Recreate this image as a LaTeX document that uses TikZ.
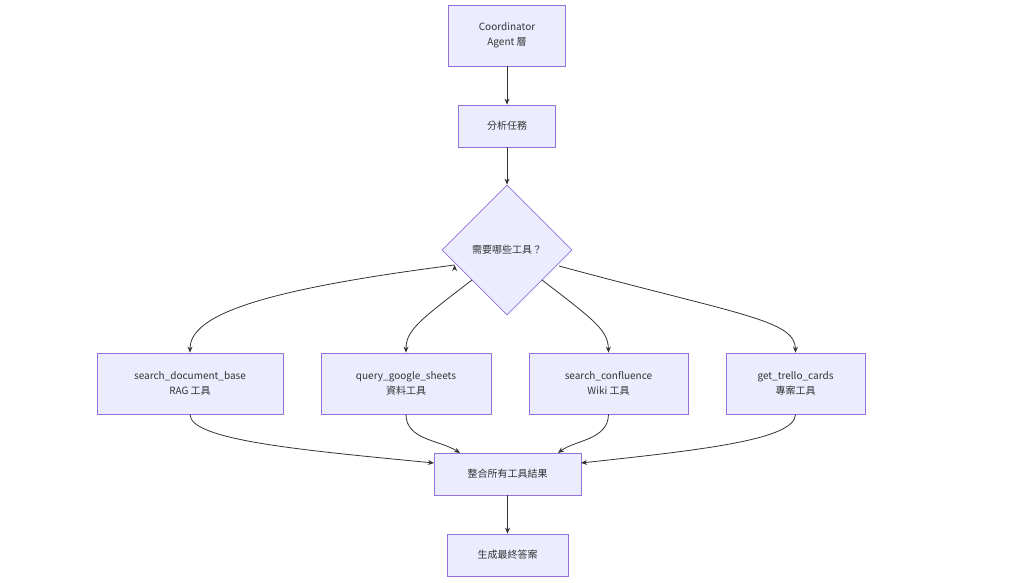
\documentclass[tikz,border=0pt]{standalone}
\usepackage{fontspec}
\setmainfont{Noto Sans CJK TC}
\usetikzlibrary{shapes.geometric,arrows.meta}
\definecolor{nf}{HTML}{ECECFF}
\definecolor{nb}{HTML}{9370DB}
\definecolor{ln}{HTML}{333333}
\begin{document}
\begin{tikzpicture}[x=1pt,y=-1pt,
  box/.style={draw=nb,fill=nf,line width=0.8pt,text=ln,font=\fontsize{10}{15}\selectfont,align=center,inner sep=0pt},
  ar/.style={draw=ln,line width=0.8pt,-{Stealth[length=6pt,width=5pt]}}]
\useasboundingbox (0,0) rectangle (1024,582);
\node[box,minimum width=117pt,minimum height=61pt] (a) at (507,35.5) {Coordinator\\Agent 層};
\node[box,minimum width=97pt,minimum height=42pt] (b) at (507,126) {分析任務};
\node[box,diamond,aspect=1,minimum width=130pt,minimum height=130pt] (d) at (507,250) {需要哪些工具？};
\node[box,minimum width=186pt,minimum height=61pt] (t1) at (190,383.5) {search\_document\_base\\RAG 工具};
\node[box,minimum width=170pt,minimum height=61pt] (t2) at (406,383.5) {query\_google\_sheets\\資料工具};
\node[box,minimum width=159pt,minimum height=61pt] (t3) at (608.5,383.5) {search\_confluence\\Wiki 工具};
\node[box,minimum width=139pt,minimum height=61pt] (t4) at (795.5,383.5) {get\_trello\_cards\\專案工具};
\node[box,minimum width=147pt,minimum height=42pt] (m) at (507.5,474) {整合所有工具結果};
\node[box,minimum width=121pt,minimum height=42pt] (g) at (507.5,555) {生成最終答案};
\draw[ar] (a) -- (b);
\draw[ar] (b) -- (d);
\draw[ar] (d.west) ++(13,15) coordinate (d1);
\draw[ar] (d1) .. controls (260,290) and (190,315) .. (t1.north);
\coordinate (d2) at (472,280);
\draw[ar] (d2) .. controls (420,320) and (406,330) .. (t2.north);
\coordinate (d3) at (542,280);
\draw[ar] (d3) .. controls (594,320) and (608,330) .. (t3.north);
\coordinate (d4) at (559,266);
\draw[ar] (d4) .. controls (740,315) and (795,320) .. (t4.north);
\draw[ar] (t1.south) .. controls (190,440) and (300,450) .. (434,463);
\draw[ar] (t2.south) .. controls (406,440) and (440,440) .. (460,453);
\draw[ar] (t3.south) .. controls (608,440) and (575,440) .. (558,453);
\draw[ar] (t4.south) .. controls (795,440) and (700,450) .. (581,463);
\draw[ar] (m) -- (g);
\end{tikzpicture}
\end{document}
